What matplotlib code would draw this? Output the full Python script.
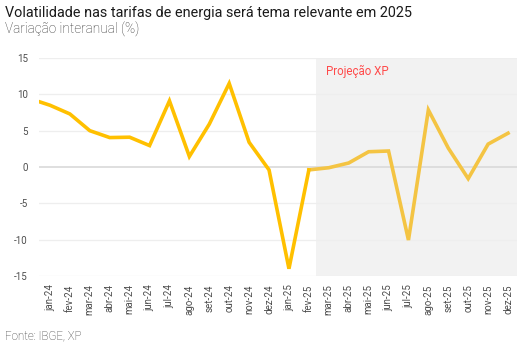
import numpy as np
import matplotlib.pyplot as plt

plt.rcParams['font.family'] = ['Roboto', 'DejaVu Sans']

# Data (yoy change, %) - dez-23 is only there so the line enters from the left edge
months = ['dez-23',
          'jan-24', 'fev-24', 'mar-24', 'abr-24', 'mai-24', 'jun-24',
          'jul-24', 'ago-24', 'set-24', 'out-24', 'nov-24', 'dez-24',
          'jan-25', 'fev-25', 'mar-25', 'abr-25', 'mai-25', 'jun-25',
          'jul-25', 'ago-25', 'set-25', 'out-25', 'nov-25', 'dez-25']
realized = [9.4, 8.5, 7.3, 5.0, 4.05, 4.1, 2.95, 9.1, 1.45, 5.9, 11.5, 3.4,
            -0.4, -14.0, -0.4]
projection = [-0.4, -0.1, 0.55, 2.1, 2.2, -10.05, 7.85, 2.6, -1.6, 3.15, 4.65]

x = np.arange(len(months)) - 1  # jan-24 at 0
x_real = x[:len(realized)]
x_proj = x[len(realized) - 1:]

fig = plt.figure(figsize=(5.32, 3.54), dpi=100)
ax = fig.add_axes([39 / 532, 1 - 276 / 354, (517 - 39) / 532, (276 - 58) / 354])

ax.axvspan(13.36, 23.45, ymin=0, ymax=1, color='#F2F2F2', lw=0, zorder=0)

for yv in [-15, -10, -5, 5, 10, 15]:
    ax.axhline(yv, color='#EEEEEE', lw=0.9, zorder=1)
ax.axhline(0, color='#D9D9D9', lw=1.2, zorder=1)

ax.plot(x_proj, projection, color='#F4C443', lw=2.6, zorder=3,
        solid_joinstyle='miter')
ax.plot(x_real, realized, color='#FFC000', lw=2.6, zorder=4,
        solid_joinstyle='miter')

ax.set_xlim(-0.55, 23.45)
ax.set_ylim(-15, 15)
ax.set_yticks([-15, -10, -5, 0, 5, 10, 15])
ax.set_yticklabels(['-15', '-10', '-5', '0', '5', '10', '15'])
ax.set_xticks(x[1:])
ax.set_xticklabels(months[1:], rotation=90)
ax.tick_params(axis='both', length=0, labelsize=7, labelcolor='#4D4D4D')
ax.tick_params(axis='y', pad=8)
ax.tick_params(axis='x', pad=6)
for s in ax.spines.values():
    s.set_visible(False)

ax.text(13.85, 13.2, 'Projeção XP', color='#FF4A4A', fontsize=8.3, va='center',
        ha='left')

fig.text(5 / 532, 1 - 13 / 354, 'Volatilidade nas tarifas de energia será tema relevante em 2025',
         fontsize=10.4, color='#1A1A1A', va='center', ha='left')
fig.text(5 / 532, 1 - 29 / 354, 'Variação interanual (%)', fontsize=9.8,
         color='#333333', va='center', ha='left', fontweight='light')
fig.text(5 / 532, 1 - 336 / 354, 'Fonte: IBGE, XP', fontsize=8.3,
         color='#333333', va='center', ha='left', fontweight='light')

fig.savefig('out.png', dpi=100)
